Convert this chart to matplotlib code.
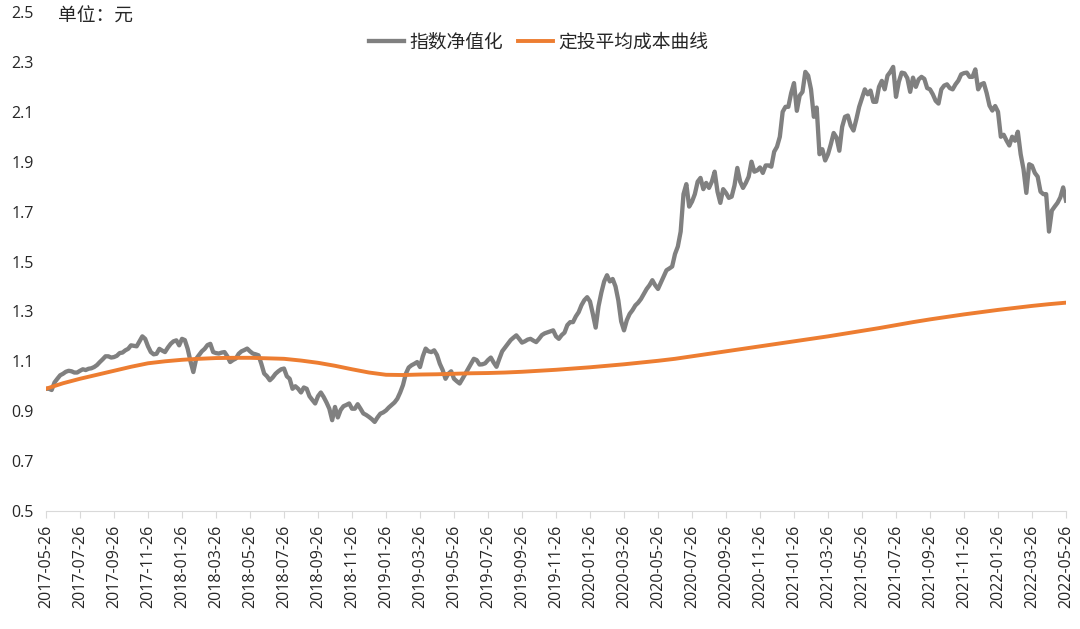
import matplotlib
matplotlib.use("agg")
import matplotlib.pyplot as plt
import numpy as np

plt.rcParams['font.family'] = ['Open Sans', 'Noto Sans CJK SC', 'DejaVu Sans']

# tick labels every 2 months
tick_labels = ["2017-05-26", "2017-07-26", "2017-09-26", "2017-11-26",
               "2018-01-26", "2018-03-26", "2018-05-26", "2018-07-26",
               "2018-09-26", "2018-11-26", "2019-01-26", "2019-03-26",
               "2019-05-26", "2019-07-26", "2019-09-26", "2019-11-26",
               "2020-01-26", "2020-03-26", "2020-05-26", "2020-07-26",
               "2020-09-26", "2020-11-26", "2021-01-26", "2021-03-26",
               "2021-05-26", "2021-07-26", "2021-09-26", "2021-11-26",
               "2022-01-26", "2022-03-26", "2022-05-26"]

# index NAV, 12 samples per 2-month tick interval (one row per interval)
nav = [
    0.99, 0.99, 0.985, 1.015, 1.03, 1.044, 1.05, 1.058, 1.062, 1.06, 1.055, 1.055,
    1.062, 1.068, 1.065, 1.07, 1.072, 1.077, 1.085, 1.097, 1.108, 1.12, 1.12, 1.115,
    1.117, 1.122, 1.133, 1.135, 1.144, 1.15, 1.164, 1.162, 1.16, 1.18, 1.2, 1.19,
    1.16, 1.137, 1.128, 1.13, 1.15, 1.143, 1.137, 1.155, 1.17, 1.18, 1.184, 1.164,
    1.19, 1.185, 1.15, 1.1, 1.057, 1.11, 1.125, 1.14, 1.15, 1.165, 1.17, 1.137,
    1.133, 1.131, 1.135, 1.137, 1.12, 1.097, 1.105, 1.111, 1.13, 1.14, 1.145, 1.151,
    1.14, 1.131, 1.128, 1.124, 1.09, 1.051, 1.04, 1.024, 1.035, 1.05, 1.06, 1.068,
    1.071, 1.04, 1.03, 0.99, 1.0, 0.99, 0.975, 0.995, 0.99, 0.96, 0.945, 0.931,
    0.96, 0.975, 0.957, 0.935, 0.91, 0.864, 0.917, 0.875, 0.905, 0.92, 0.925, 0.931,
    0.91, 0.91, 0.928, 0.91, 0.891, 0.885, 0.877, 0.868, 0.857, 0.875, 0.89, 0.895,
    0.903, 0.915, 0.925, 0.935, 0.95, 0.975, 1.005, 1.05, 1.075, 1.084, 1.09, 1.097,
    1.077, 1.12, 1.151, 1.14, 1.137, 1.144, 1.125, 1.09, 1.065, 1.03, 1.05, 1.06,
    1.03, 1.02, 1.011, 1.03, 1.05, 1.07, 1.09, 1.11, 1.105, 1.087, 1.088, 1.092,
    1.105, 1.115, 1.095, 1.078, 1.11, 1.14, 1.155, 1.17, 1.185, 1.195, 1.204, 1.19,
    1.175, 1.18, 1.187, 1.19, 1.183, 1.177, 1.19, 1.205, 1.212, 1.216, 1.22, 1.224,
    1.2, 1.19, 1.205, 1.215, 1.245, 1.257, 1.257, 1.28, 1.297, 1.325, 1.345, 1.357,
    1.34, 1.29, 1.235, 1.32, 1.375, 1.42, 1.445, 1.42, 1.43, 1.4, 1.344, 1.26,
    1.224, 1.265, 1.29, 1.305, 1.324, 1.335, 1.35, 1.37, 1.39, 1.405, 1.425, 1.405,
    1.39, 1.415, 1.44, 1.465, 1.472, 1.48, 1.53, 1.56, 1.62, 1.77, 1.81, 1.72,
    1.74, 1.77, 1.82, 1.835, 1.79, 1.815, 1.795, 1.82, 1.86, 1.78, 1.735, 1.79,
    1.775, 1.755, 1.76, 1.805, 1.875, 1.82, 1.795, 1.815, 1.84, 1.9, 1.86, 1.865,
    1.877, 1.855, 1.885, 1.885, 1.88, 1.94, 1.96, 2.0, 2.1, 2.12, 2.12, 2.175,
    2.215, 2.104, 2.165, 2.18, 2.26, 2.245, 2.19, 2.08, 2.117, 1.93, 1.95, 1.905,
    1.93, 1.97, 2.015, 1.997, 1.944, 2.04, 2.08, 2.085, 2.045, 2.025, 2.07, 2.12,
    2.155, 2.19, 2.17, 2.185, 2.14, 2.14, 2.2, 2.224, 2.19, 2.245, 2.26, 2.28,
    2.16, 2.22, 2.257, 2.254, 2.235, 2.18, 2.237, 2.2, 2.23, 2.24, 2.232, 2.195,
    2.19, 2.17, 2.144, 2.133, 2.19, 2.205, 2.21, 2.195, 2.19, 2.21, 2.225, 2.25,
    2.255, 2.257, 2.24, 2.24, 2.27, 2.19, 2.21, 2.215, 2.175, 2.125, 2.105, 2.123,
    2.1, 2.0, 2.008, 1.985, 1.965, 2.0, 1.984, 2.02, 1.93, 1.87, 1.775, 1.89,
    1.884, 1.855, 1.84, 1.78, 1.77, 1.77, 1.62, 1.704, 1.72, 1.735, 1.757, 1.797,
    1.744]

# average cost of regular investing, 2 samples per tick interval
cost = [0.99, 1.012, 1.03, 1.046, 1.062, 1.078, 1.092, 1.10, 1.106, 1.11,
        1.113, 1.114, 1.114, 1.112, 1.11, 1.103, 1.094, 1.082, 1.068, 1.055,
        1.046, 1.045, 1.047, 1.048, 1.05, 1.052, 1.053, 1.055, 1.058, 1.062,
        1.066, 1.071, 1.076, 1.082, 1.088, 1.095, 1.102, 1.11, 1.12, 1.13,
        1.14, 1.15, 1.16, 1.17, 1.18, 1.19, 1.20, 1.211, 1.222, 1.233,
        1.245, 1.257, 1.268, 1.278, 1.288, 1.297, 1.306, 1.314, 1.322, 1.329,
        1.335]

x_nav = np.arange(len(nav))
x_cost = np.arange(len(cost)) * 6
x_ticks = np.arange(len(tick_labels)) * 12

fig = plt.figure(figsize=(10.8, 6.29), dpi=100)
ax = fig.add_axes([46 / 1080, 118 / 629, 1020 / 1080, 499 / 629])

ax.plot(x_nav, nav, color="#808080", lw=3.1, label="指数净值化",
        solid_joinstyle="round")
ax.plot(x_cost, cost, color="#ED7D31", lw=2.8, label="定投平均成本曲线")

ax.set_xlim(0, 360)
ax.set_ylim(0.5, 2.5)
yt = np.arange(0.5, 2.51, 0.2)
ax.set_yticks(yt)
ax.set_yticklabels(["%.1f" % v for v in yt])
ax.set_xticks(x_ticks)
ax.set_xticklabels(tick_labels, rotation=90)

for s in ["top", "right", "left"]:
    ax.spines[s].set_visible(False)
ax.spines["bottom"].set_color("#d9d9d9")
ax.tick_params(axis="y", length=0, pad=9, labelsize=11.5, labelcolor="#262626")
ax.tick_params(axis="x", length=5, color="#d9d9d9", pad=5, labelsize=11.5,
               labelcolor="#262626")

leg = ax.legend(loc="center", bbox_to_anchor=(0.483, 0.94), ncol=2,
                frameon=False, handlelength=1.9, columnspacing=0.75,
                handletextpad=0.3, prop={"family": ["Noto Sans CJK SC"], "size": 13.5})
for t in leg.get_texts():
    t.set_color("#262626")
fig.text(58 / 1080, 1 - 16 / 629, "单位：元", fontsize=13.5, va="center",
         color="#262626", family=["Noto Sans CJK SC", "DejaVu Sans"])

fig.savefig("out.png", dpi=100)
